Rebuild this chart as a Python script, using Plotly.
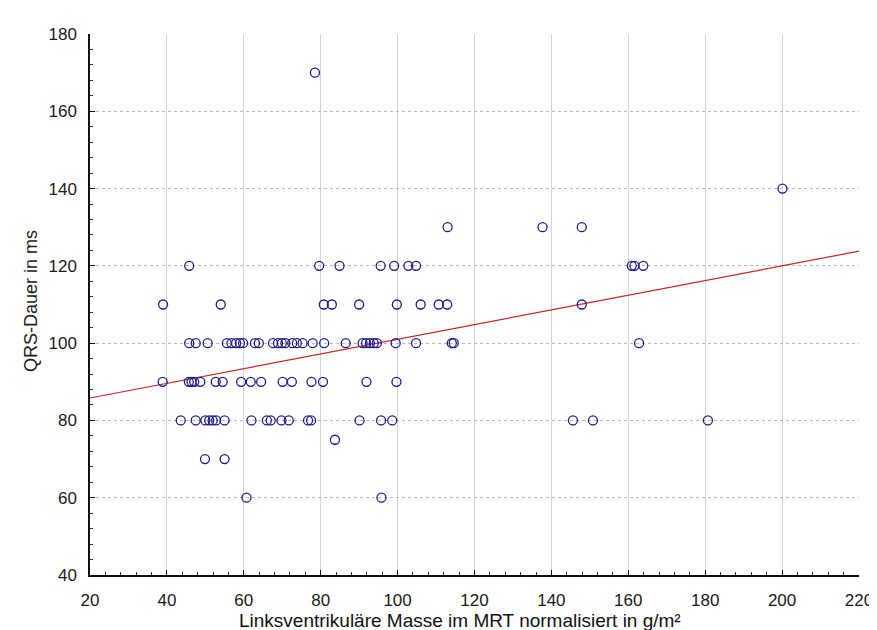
import plotly.graph_objects as go

# QRS duration (ms) levels and the LV mass values (g/m²) read at each level
x_170 = [78.5]
x_140 = [200.1]
x_130 = [113.0, 137.7, 147.9]
x_120 = [45.8, 79.6, 84.9, 95.6, 99.1, 102.8, 104.8, 160.9, 161.6, 163.9]
x_110 = [39.0, 54.0, 80.8, 82.9, 90.0, 99.8, 106.0, 110.7, 112.9, 147.9]
x_100 = [45.8, 47.5, 50.6, 55.6, 56.8, 58.0, 59.0, 59.8, 62.9, 63.9, 67.6, 68.9,
         69.9, 70.8, 72.6, 73.8, 75.3, 77.9, 80.9, 86.5, 90.9, 91.8, 92.8, 93.8,
         94.6, 99.5, 104.8, 114.1, 114.6, 162.8]
x_90 = [38.9, 45.7, 46.4, 47.1, 48.7, 52.7, 54.5, 59.3, 61.8, 64.5, 70.1, 72.5,
        77.6, 80.6, 91.9, 99.7]
x_80 = [43.6, 47.5, 50.0, 51.0, 51.9, 52.8, 55.0, 62.0, 66.0, 67.0, 69.8, 71.7,
        76.7, 77.5, 90.1, 95.7, 98.6, 145.6, 150.8, 180.7]
x_75 = [83.7]
x_70 = [49.9, 55.0]
x_60 = [60.7, 95.8]

levels = {170: x_170, 140: x_140, 130: x_130, 120: x_120, 110: x_110, 100: x_100,
          90: x_90, 80: x_80, 75: x_75, 70: x_70, 60: x_60}

lv_mass = []
qrs_duration = []
for q, xs in levels.items():
    lv_mass.extend(xs)
    qrs_duration.extend([q] * len(xs))

# regression line end points
fit_x = [20, 220]
fit_y = [85.8, 123.8]

x_ticks = [20, 40, 60, 80, 100, 120, 140, 160, 180, 200, 220]
y_ticks = [40, 60, 80, 100, 120, 140, 160, 180]

font_family = "Liberation Sans, Arial, sans-serif"

fig = go.Figure()
fig.add_trace(go.Scatter(
    x=fit_x, y=fit_y, mode="lines",
    line=dict(color="#c8262a", width=1.2),
    hoverinfo="skip", showlegend=False))
fig.add_trace(go.Scatter(
    x=lv_mass, y=qrs_duration, mode="markers",
    marker=dict(symbol="circle-open", size=9, color="#1c1c8e",
                line=dict(width=1.3, color="#1c1c8e")),
    showlegend=False))

fig.update_layout(
    width=877, height=630,
    margin=dict(l=82, r=16, t=26, b=63),
    paper_bgcolor="white", plot_bgcolor="white",
    font=dict(family=font_family, size=17, color="#1a1a1a"),
    showlegend=False,
    annotations=[
        dict(text="Linksventrikuläre Masse im MRT normalisiert in g/m²",
             xref="paper", yref="paper", x=0.481, y=-0.085,
             xanchor="center", yanchor="middle", showarrow=False,
             font=dict(size=19, color="#111111")),
        dict(text="QRS-Dauer in ms",
             xref="paper", yref="paper", x=-0.077, y=0.506,
             xanchor="center", yanchor="middle", showarrow=False,
             textangle=-90, font=dict(size=18, color="#222222")),
    ],
)

fig.update_xaxes(
    range=[20, 220], tickvals=x_ticks, ticktext=[str(v) for v in x_ticks],
    showline=True, linecolor="#111111", linewidth=1.5, mirror=False,
    ticks="inside", ticklen=5, tickcolor="#111111", tickwidth=1,
    minor=dict(dtick=4, tick0=20, ticks="inside", ticklen=3, tickcolor="#333333", showgrid=False),
    showgrid=True, gridcolor="#d4d4d4", gridwidth=1,
    zeroline=False, ticklabelstandoff=9,
    tickfont=dict(size=17, color="#1a1a1a"),
)
fig.update_yaxes(
    range=[40, 180], tickvals=y_ticks, ticktext=[str(v) for v in y_ticks],
    showline=True, linecolor="#111111", linewidth=1.5, mirror=False,
    ticks="inside", ticklen=5, tickcolor="#111111", tickwidth=1,
    minor=dict(dtick=4, tick0=40, ticks="inside", ticklen=3, tickcolor="#333333", showgrid=False),
    showgrid=True, gridcolor="#b8b8b8", gridwidth=1, griddash="dot",
    zeroline=False, ticklabelstandoff=8,
    tickfont=dict(size=17, color="#1a1a1a"),
)

fig.write_html("out.html")
